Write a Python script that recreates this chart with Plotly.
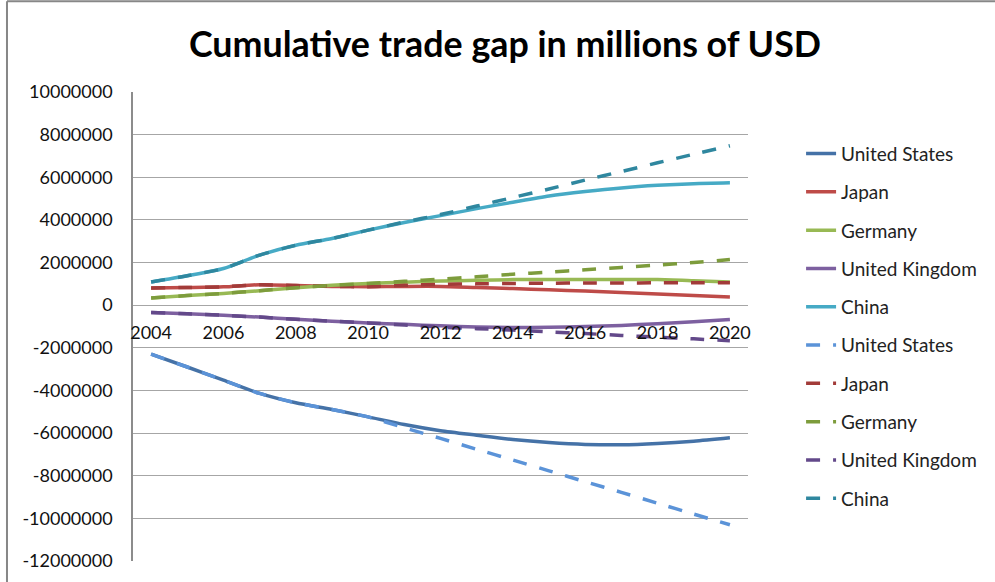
import plotly.graph_objects as go

# Years on the category axis
years = list(range(2004, 2021))
year_labels = [str(y) for y in years[::2]]

# Value axis ticks
y_ticks = list(range(-12000000, 10000001, 2000000))
y_tick_labels = [str(v) for v in y_ticks]

# Cumulative trade gap, millions of USD - observed series (solid)
us_actual = [-2300000, -2900000, -3520000, -4140000, -4580000, -4890000, -5240000,
             -5600000, -5890000, -6100000, -6300000, -6440000, -6530000, -6550000,
             -6490000, -6380000, -6220000]
japan_actual = [810000, 830000, 860000, 960000, 920000, 880000, 870000, 880000,
                880000, 830000, 780000, 720000, 660000, 600000, 520000, 450000, 380000]
germany_actual = [340000, 450000, 550000, 680000, 820000, 930000, 1020000, 1080000,
                  1130000, 1170000, 1200000, 1210000, 1210000, 1200000, 1200000,
                  1150000, 1090000]
uk_actual = [-340000, -400000, -470000, -560000, -660000, -750000, -830000, -900000,
             -970000, -1020000, -1050000, -1040000, -1000000, -950000, -870000,
             -780000, -670000]
china_actual = [1090000, 1380000, 1720000, 2350000, 2810000, 3130000, 3520000,
                3880000, 4200000, 4530000, 4830000, 5120000, 5330000, 5500000,
                5620000, 5700000, 5740000]

# Trend continuation after 2010 (dashed)
us_trend = [-2300000, -2900000, -3520000, -4140000, -4580000, -4890000, -5240000,
            -5750000, -6250000, -6760000, -7260000, -7770000, -8280000, -8780000,
            -9290000, -9800000, -10300000]
japan_trend = [810000, 830000, 860000, 960000, 920000, 880000, 870000, 930000,
               980000, 1000000, 1020000, 1030000, 1040000, 1040000, 1050000,
               1050000, 1050000]
germany_trend = [340000, 450000, 550000, 680000, 820000, 930000, 1020000, 1120000,
                 1220000, 1330000, 1450000, 1550000, 1660000, 1770000, 1880000,
                 2000000, 2140000]
uk_trend = [-340000, -400000, -470000, -560000, -660000, -750000, -830000, -930000,
            -1030000, -1100000, -1170000, -1250000, -1330000, -1420000, -1500000,
            -1580000, -1670000]
china_trend = [1090000, 1380000, 1720000, 2350000, 2810000, 3130000, 3520000,
               3900000, 4250000, 4650000, 5050000, 5450000, 5870000, 6270000,
               6680000, 7080000, 7480000]

countries = ["United States", "Japan", "Germany", "United Kingdom", "China"]
actual_series = [us_actual, japan_actual, germany_actual, uk_actual, china_actual]
trend_series = [us_trend, japan_trend, germany_trend, uk_trend, china_trend]
solid_colors = ["#4572A7", "#BE4B48", "#98B954", "#7D60A0", "#46AAC5"]
dash_colors = ["#5B93D8", "#A23B39", "#7D9C3C", "#63498A", "#2F879F"]

y_min, y_max = y_ticks[0], y_ticks[-1]
font_family = "Lato, 'Open Sans', Arial, sans-serif"

fig = go.Figure()
for i, (name, vals) in enumerate(zip(countries, actual_series)):
    fig.add_trace(go.Scatter(
        x=years, y=vals, name=name, mode="lines", legendgroup=f"a{i}",
        line=dict(color=solid_colors[i], width=3.5, shape="spline", smoothing=0.7),
    ))
for i, (name, vals) in enumerate(zip(countries, trend_series)):
    fig.add_trace(go.Scatter(
        x=years, y=vals, name=name, mode="lines", legendgroup=f"t{i}",
        line=dict(color=dash_colors[i], width=3.5, dash="14px,13px",
                  shape="spline", smoothing=0.7),
    ))

fig.update_layout(
    width=995, height=582,
    margin=dict(l=133, r=247, t=92, b=21),
    paper_bgcolor="white", plot_bgcolor="white",
    font=dict(family=font_family, size=18, color="#111111"),
    title=dict(
        text="<b>Cumulative trade gap in millions of USD</b>",
        xref="container", yref="container", x=0.5075, y=0.923,
        xanchor="center", yanchor="middle",
        font=dict(family=font_family, size=35.8, color="black"),
    ),
    showlegend=True,
    legend=dict(
        x=1.0863, y=0.909, xanchor="left", yanchor="top",
        font=dict(family=font_family, size=19, color="#222222"),
        tracegroupgap=10.6, itemwidth=30, bgcolor="rgba(0,0,0,0)",
    ),
    shapes=[
        # outer chart frame (top and left edges visible)
        dict(type="line", xref="paper", yref="paper",
             x0=-0.2049, x1=1.5, y0=1.1935, y1=1.1935,
             line=dict(color="#878787", width=2)),
        dict(type="line", xref="paper", yref="paper",
             x0=-0.2049, x1=-0.2049, y0=-0.2, y1=1.1935,
             line=dict(color="#878787", width=2)),
    ],
)

fig.update_xaxes(
    range=[2003.5, 2020.5], tickmode="array",
    tickvals=years[::2], ticktext=year_labels,
    anchor="free", position=(0 - y_min) / (y_max - y_min),
    showgrid=False, showline=False, zeroline=False, ticks="",
    ticklabelstandoff=15,
    tickfont=dict(family=font_family, size=18, color="#111111"),
)
fig.update_yaxes(
    range=[y_min, y_max], tickmode="array",
    tickvals=y_ticks, ticktext=y_tick_labels,
    showgrid=True, gridcolor="#A6A6A6", gridwidth=1,
    zeroline=False, showline=True, linecolor="#8C8C8C", linewidth=1.5,
    ticks="", ticklabelstandoff=15,
    tickfont=dict(family=font_family, size=18, color="#111111"),
)

fig.write_html("out.html")
